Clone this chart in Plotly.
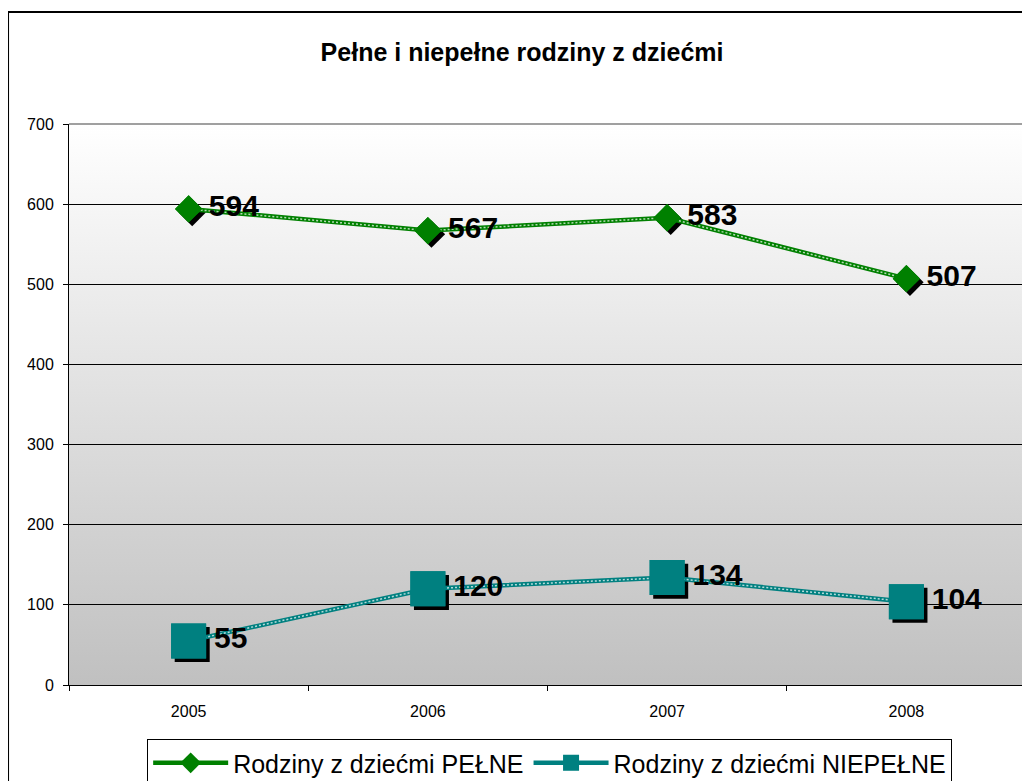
import base64
import plotly.graph_objects as go

years = ["2005", "2006", "2007", "2008"]
pelne = [594, 567, 583, 507]
niepelne = [55, 120, 134, 104]
name_pelne = "Rodziny z dziećmi PEŁNE"
name_niepelne = "Rodziny z dziećmi NIEPEŁNE"
title = "Pełne i niepełne rodziny z dziećmi"
y_ticks = [0, 100, 200, 300, 400, 500, 600, 700]

GREEN = "#008000"
TEAL = "#008080"
FONT = "Liberation Sans, Arial, sans-serif"

svg = ('<svg xmlns="http://www.w3.org/2000/svg" width="10" height="100" preserveAspectRatio="none">'
       '<defs><linearGradient id="g" x1="0" y1="0" x2="0" y2="1">'
       '<stop offset="0" stop-color="#ffffff"/><stop offset="1" stop-color="#c0c0c0"/>'
       '</linearGradient></defs><rect width="10" height="100" fill="url(#g)"/></svg>')
svg_uri = "data:image/svg+xml;base64," + base64.b64encode(svg.encode()).decode()

fig = go.Figure()

series = [(pelne, GREEN, name_pelne, "diamond", 21, "\u2009%{y}"),
          (niepelne, TEAL, name_niepelne, "square", 35, "\u200a%{y}")]

# shadows (on hidden, slightly shifted base axes)
for vals, col, name, sym, size, tt in series:
    fig.add_trace(go.Scatter(x=years, y=vals, mode="markers", xaxis="x", yaxis="y",
                             marker=dict(symbol=sym, size=size, color="black", line=dict(width=0)),
                             showlegend=False, hoverinfo="skip"))

for vals, col, name, sym, size, tt in series:
    # legend entry + base line
    fig.add_trace(go.Scatter(x=years, y=vals, mode="lines+markers", name=name,
                             xaxis="x2", yaxis="y2",
                             line=dict(color=col, width=4.5),
                             marker=dict(symbol=sym, size=size, color=col, line=dict(width=0)),
                             hoverinfo="skip"))
    # pattern overlay
    fig.add_trace(go.Scatter(x=years, y=vals, mode="lines", xaxis="x2", yaxis="y2",
                             line=dict(color="rgba(255,255,255,0.7)", width=1.5, dash="2px,2px"),
                             showlegend=False, hoverinfo="skip"))
    # markers + labels
    fig.add_trace(go.Scatter(x=years, y=vals, mode="markers+text", xaxis="x2", yaxis="y2",
                             marker=dict(symbol=sym, size=size, color=col, line=dict(width=0)),
                             texttemplate=tt, textposition="middle right",
                             textfont=dict(family=FONT, size=30, color="black", weight="bold"),
                             showlegend=False))

dx = 0.015
dy = 4.5
fig.update_layout(
    width=1022, height=773,
    margin=dict(l=61, r=4, t=116, b=96),
    paper_bgcolor="white",
    plot_bgcolor="rgba(0,0,0,0)",
    font=dict(family=FONT, color="black"),
    title=dict(text="<b>" + title + "</b>", x=0.503, xanchor="center", y=0.943, yanchor="middle",
               font=dict(family=FONT, size=25, color="black")),
    xaxis=dict(type="category", range=[-0.5 - dx, 3.5 - dx], visible=False),
    yaxis=dict(range=[0 + dy, 700 + dy], visible=False),
    xaxis2=dict(type="category", overlaying="x", range=[-0.5, 3.5], showgrid=False,
                tickson="boundaries", ticks="outside", ticklen=5, tickcolor="black",
                showline=True, linecolor="black", linewidth=1, ticklabelstandoff=12,
                tickfont=dict(family=FONT, size=16, color="black"), side="bottom"),
    yaxis2=dict(overlaying="y", range=[0, 700], tickvals=y_ticks, showgrid=True,
                gridcolor="black", gridwidth=1, zeroline=False,
                ticks="outside", ticklen=5, tickcolor="black", ticklabelstandoff=6,
                showline=True, linecolor="black", linewidth=1, side="left",
                tickfont=dict(family=FONT, size=16, color="black")),
    legend=dict(orientation="h", xref="container", yref="container",
                x=0.530, xanchor="center", y=0.0543, yanchor="top",
                bordercolor="black", borderwidth=1, bgcolor="white",
                font=dict(family=FONT, size=25, color="black"), itemwidth=75),
    images=[dict(source=svg_uri, xref="paper", yref="paper", x=0, y=1, sizex=1, sizey=1,
                 xanchor="left", yanchor="top", sizing="stretch", layer="below")],
    shapes=[
        dict(type="line", xref="paper", yref="paper", x0=0, x1=1, y0=1, y1=1,
             line=dict(color="#808080", width=1.5)),
        dict(type="line", xref="paper", yref="paper", x0=1, x1=1, y0=0, y1=1,
             line=dict(color="#808080", width=1.5)),
        dict(type="rect", xref="paper", yref="paper", x0=-0.0637, x1=1.01, y0=-0.2, y1=1.1996,
             line=dict(color="black", width=2), layer="below"),
    ],
    showlegend=True,
)

fig.write_html("out.html")
